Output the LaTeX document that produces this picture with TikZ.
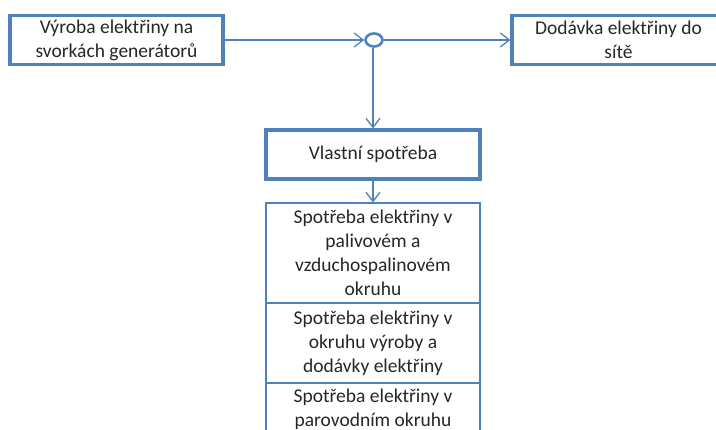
\documentclass[tikz,border=0pt]{standalone}
\usepackage{fontspec}
\setmainfont{Carlito}
\usetikzlibrary{arrows.meta,shapes.geometric}
\definecolor{bl}{HTML}{4F81BD}
\begin{document}
\begin{tikzpicture}[x=1pt,y=1pt,
  font=\fontsize{19.5}{24}\selectfont,
  thickbox/.style={draw=bl,line width=3.2pt,rectangle,inner sep=0pt,align=center,text=black!85},
  thinbox/.style={draw=bl,line width=1.2pt,rectangle,inner sep=0pt,align=center,text=black!85},
  conn/.style={draw=bl,line width=1.3pt,-{Straight Barb[length=9pt,width=14pt]}}]
\useasboundingbox (0,0) rectangle (716,-430);
\clip (0,0) rectangle (716,-430);
\node[thickbox,minimum width=213pt,minimum height=49pt] (prod) at (116.5,-40) {Výroba elektřiny na\\svorkách generátorů};
\node[thickbox,minimum width=213pt,minimum height=49pt] (grid) at (618.5,-40) {Dodávka elektřiny do\\sítě};
\node[draw=bl,line width=2.6pt,ellipse,minimum width=17pt,minimum height=13pt,inner sep=0pt] (j) at (374,-40) {};
\node[thickbox,minimum width=214pt,minimum height=49pt] (own) at (373,-154.5) {Vlastní spotřeba};
\node[thinbox,minimum width=214pt,minimum height=100pt] (s1) at (373,-253) {Spotřeba elektřiny v\\palivovém a\\vzduchospalinovém\\okruhu};
\node[thinbox,minimum width=214pt,minimum height=80pt] (s2) at (373,-343) {Spotřeba elektřiny v\\okruhu výroby a\\dodávky elektřiny};
\node[thinbox,minimum width=214pt,minimum height=52pt] (s3) at (373,-409) {Spotřeba elektřiny v\\parovodním okruhu};
\draw[conn] (prod.east) -- (j.west);
\draw[conn] (j.east) -- (grid.west);
\draw[conn] (j.south -| own.north) -- (own.north);
\draw[conn] (own.south) -- (s1.north);
\end{tikzpicture}
\end{document}
